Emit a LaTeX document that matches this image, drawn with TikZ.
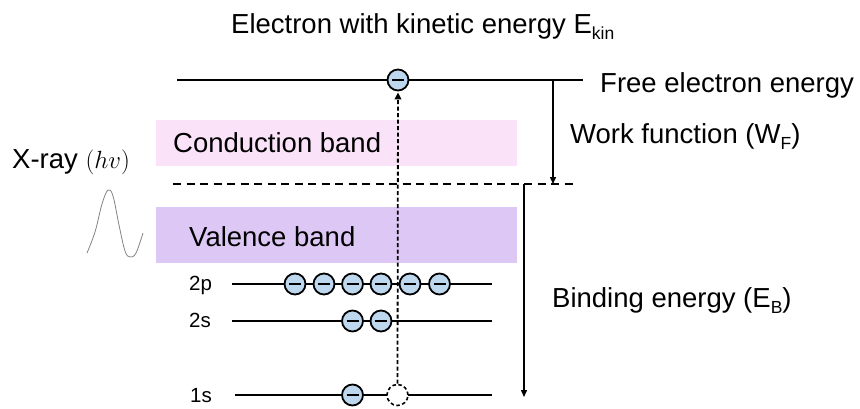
\documentclass[tikz,border=0pt]{standalone}
\usepackage{fontspec}
\setmainfont{Liberation Sans}
\usetikzlibrary{arrows.meta}
\definecolor{elecfill}{RGB}{189,215,238}
\definecolor{cbfill}{RGB}{250,226,248}
\definecolor{vbfill}{RGB}{221,199,245}
\definecolor{wavecol}{RGB}{130,130,130}
\newcommand{\mysub}[1]{\raisebox{-0.22em}{\fontsize{17.5}{20}\selectfont #1}}
\begin{document}
\begin{tikzpicture}[x=1pt,y=-1pt,
  elec/.style={circle,draw,line width=1.8pt,fill=elecfill,minimum size=21pt,inner sep=0pt,
    path picture={\draw[line width=2.2pt] ([xshift=-6pt]path picture bounding box.center) -- ([xshift=6pt]path picture bounding box.center);}},
  hole/.style={circle,draw,dash pattern=on 3.5pt off 2.5pt,line width=1.6pt,fill=white,minimum size=21pt,inner sep=0pt},
  lvl/.style={line width=1.6pt},
  band/.style={draw=none,minimum width=361pt,inner sep=0pt},
  lbl/.style={font=\fontsize{27.5}{31}\selectfont,inner sep=0pt,anchor=base west},
  small/.style={font=\fontsize{20.5}{23}\selectfont,inner sep=0pt,anchor=base west},
  arr/.style={line width=1.4pt,-{Triangle[length=7pt,width=6pt]}},
  fermi/.style={line width=1.5pt,dash pattern=on 8pt off 5.5pt},
  jump/.style={line width=1.8pt,dash pattern=on 4pt off 2.5pt,-{Triangle[length=7pt,width=6.5pt]}}
]
\useasboundingbox (0,0) rectangle (860,408);
% bands
\node[band,fill=cbfill,minimum height=46pt] (cb) at (336.5,143) {};
\node[band,fill=vbfill,minimum height=56pt] (vb) at (336.5,235) {};
\node[lbl] (cbt) at (173,152) {Conduction band};
\node[lbl] (vbt) at (189,246) {Valence band};
% coordinates
\coordinate (top0) at (177,80);
\coordinate (top1) at (583,80);
\coordinate (f0) at (173,184);
\coordinate (f1) at (574,184);
\coordinate (p0) at (232,284);
\coordinate (p1) at (492,284);
\coordinate (s0) at (232,321);
\coordinate (s1) at (492,321);
\coordinate (k0) at (235,395);
\coordinate (k1) at (492,395);
\coordinate (wt) at (553,80);
\coordinate (wb) at (553,184);
\coordinate (bt) at (524,184);
\coordinate (bb) at (524,397);
% lines
\draw[lvl] (top0) -- (top1);
\draw[fermi] (f0) -- (f1);
\draw[lvl] (p0) -- (p1);
\draw[lvl] (s0) -- (s1);
\draw[lvl] (k0) -- (k1);
\draw[arr] (wt) -- (wb);
\draw[arr] (bt) -- (bb);
% hole and electrons
\node[hole] (h) at (397.5,395) {};
\node[elec] (top) at (398,80) {};
\draw[jump] (h.north) -- ([yshift=-1pt]top.south);
\foreach \i/\x in {1/295,2/324,3/352.5,4/381,5/410,6/439.5}
  \node[elec] (p\i) at (\x,284) {};
\node[elec] (s1e) at (352.5,321) {};
\node[elec] (s2e) at (381,321) {};
\node[elec] (k1e) at (352.5,395) {};
% wave
\draw[wavecol,line width=0.8pt] plot[smooth,tension=0.6] coordinates
  {(87,253) (95,232) (102,204) (108,190) (113,196) (119,225) (125,251) (130,257) (136,253) (143,233)};
% labels
\node[lbl] (title) at (231,33) {Electron with kinetic energy E\mysub{kin}};
\node[lbl] (fe) at (600,92) {Free electron energy};
\node[lbl] (wf) at (570,143) {Work function (W\mysub{F})};
\node[lbl] (be) at (552,307) {Binding energy (E\mysub{B})};
\node[lbl] (xr) at (12,168) {X-ray $(hv)$};
\node[small] (l2p) at (189,290) {2p};
\node[small] (l2s) at (189,327) {2s};
\node[small] (l1s) at (190,402) {1s};
\end{tikzpicture}
\end{document}
